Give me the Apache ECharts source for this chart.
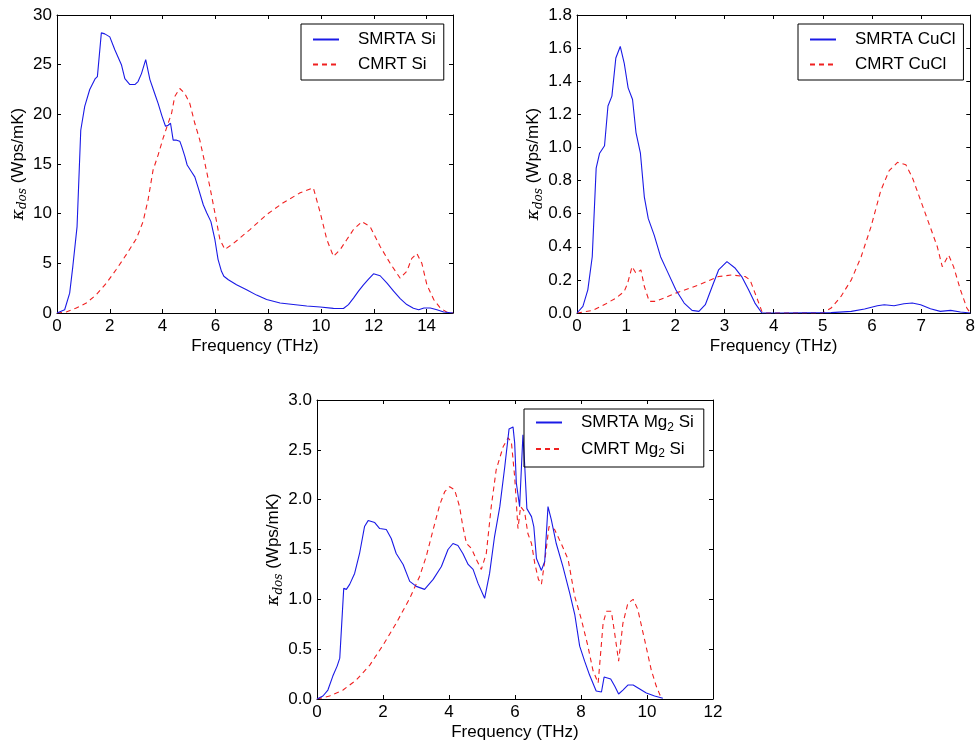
<!DOCTYPE html>
<html>
<head>
<meta charset="utf-8">
<script src="https://cdn.jsdelivr.net/npm/echarts@6/dist/echarts.min.js"></script>
<style>
  html, body { margin: 0; padding: 0; background: #fff; }
  #main { width: 978px; height: 745px; }
</style>
</head>
<body>
<div id="main"></div>
<script>
// kappa_dos curves, [frequency THz, value]
const siSmrta = [[0,0],[0.29,0.33],[0.48,2.0],[0.6,4.7],[0.76,8.7],[0.9,18.4],[1.05,20.8],[1.24,22.5],[1.45,23.6],[1.53,23.8],[1.68,28.2],[1.81,28.1],[2.0,27.8],[2.19,26.5],[2.44,25.0],[2.57,23.6],[2.76,23.0],[2.95,23.0],[3.07,23.3],[3.2,24.1],[3.36,25.5],[3.52,23.5],[3.7,22.1],[3.83,21.1],[3.98,19.8],[4.11,18.8],[4.21,18.9],[4.3,19.1],[4.4,17.4],[4.53,17.4],[4.65,17.3],[4.72,16.8],[4.84,15.8],[4.93,14.9],[5.1,14.2],[5.22,13.7],[5.35,12.6],[5.54,10.9],[5.67,10.1],[5.83,9.2],[5.98,7.4],[6.1,5.4],[6.23,4.2],[6.32,3.7],[6.49,3.35],[6.8,2.85],[7.18,2.35],[7.56,1.8],[7.94,1.35],[8.45,1.0],[8.95,0.85],[9.46,0.7],[9.97,0.6],[10.47,0.47],[10.85,0.45],[11.04,0.85],[11.23,1.5],[11.42,2.2],[11.6,2.8],[11.8,3.4],[11.99,3.95],[12.24,3.75],[12.5,3.0],[12.75,2.2],[13.0,1.45],[13.25,0.85],[13.5,0.47],[13.7,0.33],[13.9,0.5],[14.14,0.5],[14.39,0.33],[14.65,0.1],[15,0]];
const siCmrt = [[0,0],[0.35,0.1],[0.73,0.5],[1.11,1.0],[1.49,1.85],[1.87,3.0],[2.25,4.4],[2.63,5.9],[3.01,7.5],[3.26,9.2],[3.45,11.4],[3.64,14.4],[3.83,15.9],[4.02,17.6],[4.21,19.1],[4.34,20.1],[4.46,21.8],[4.65,22.6],[4.84,22.1],[5.03,21.1],[5.22,19.1],[5.41,17.4],[5.6,15.1],[5.79,12.7],[5.98,10.1],[6.17,7.4],[6.36,6.4],[6.68,7.0],[7.31,8.4],[7.94,9.9],[8.57,11.1],[9.21,12.1],[9.71,12.6],[9.97,10.1],[10.22,7.4],[10.47,5.7],[10.73,6.4],[10.98,7.4],[11.23,8.4],[11.55,9.2],[11.86,8.7],[12.24,6.7],[12.62,5.0],[13.0,3.5],[13.25,4.2],[13.44,5.5],[13.63,6.0],[13.82,5.0],[14.01,2.85],[14.27,1.35],[14.52,0.5],[14.77,0.07],[15,0]];

const cuclSmrta = [[0,0],[0.12,0.04],[0.22,0.14],[0.31,0.34],[0.39,0.875],[0.46,0.965],[0.56,1.01],[0.63,1.25],[0.71,1.31],[0.79,1.54],[0.88,1.61],[0.96,1.51],[1.04,1.36],[1.13,1.29],[1.2,1.09],[1.29,0.965],[1.37,0.70],[1.45,0.57],[1.57,0.47],[1.7,0.34],[1.84,0.25],[2.01,0.14],[2.18,0.06],[2.34,0.016],[2.48,0.01],[2.61,0.05],[2.75,0.16],[2.88,0.26],[3.05,0.31],[3.22,0.27],[3.35,0.22],[3.49,0.14],[3.62,0.06],[3.76,0],[4.16,0],[5.17,0.002],[5.58,0.01],[5.85,0.024],[6.11,0.044],[6.25,0.05],[6.45,0.044],[6.65,0.056],[6.82,0.06],[6.99,0.05],[7.19,0.026],[7.39,0.01],[7.6,0.016],[7.8,0.006],[8,0]];
const cuclCmrt = [[0,0],[0.32,0.016],[0.59,0.056],[0.79,0.09],[0.96,0.13],[1.03,0.18],[1.12,0.28],[1.2,0.24],[1.3,0.26],[1.37,0.16],[1.47,0.07],[1.6,0.07],[2.01,0.12],[2.48,0.17],[2.88,0.22],[3.15,0.23],[3.42,0.22],[3.52,0.2],[3.66,0.09],[3.76,0.01],[3.83,0],[5.0,0],[5.17,0.03],[5.37,0.1],[5.58,0.2],[5.78,0.34],[5.98,0.52],[6.18,0.74],[6.35,0.86],[6.52,0.91],[6.69,0.895],[6.82,0.82],[6.99,0.68],[7.16,0.54],[7.33,0.40],[7.43,0.28],[7.56,0.35],[7.66,0.28],[7.8,0.14],[7.93,0.03],[8,0]];

const mg2siSmrta = [[0,0],[0.18,0.03],[0.33,0.09],[0.48,0.23],[0.61,0.33],[0.69,0.41],[0.81,1.11],[0.89,1.10],[0.99,1.15],[1.14,1.26],[1.29,1.46],[1.44,1.73],[1.55,1.79],[1.75,1.77],[1.9,1.71],[2.1,1.70],[2.25,1.61],[2.4,1.46],[2.61,1.35],[2.81,1.18],[3.01,1.13],[3.26,1.10],[3.52,1.20],[3.77,1.33],[3.97,1.50],[4.12,1.56],[4.27,1.54],[4.42,1.46],[4.58,1.35],[4.73,1.30],[4.88,1.16],[5.08,1.01],[5.23,1.26],[5.38,1.63],[5.54,1.93],[5.69,2.33],[5.82,2.71],[5.94,2.73],[5.99,2.57],[6.04,2.17],[6.14,1.93],[6.24,2.65],[6.29,2.37],[6.36,1.91],[6.5,1.83],[6.57,1.73],[6.65,1.41],[6.8,1.29],[6.9,1.38],[7.0,1.93],[7.1,1.80],[7.25,1.56],[7.45,1.33],[7.66,1.06],[7.81,0.85],[7.96,0.53],[8.11,0.38],[8.26,0.24],[8.46,0.08],[8.62,0.07],[8.7,0.22],[8.9,0.20],[9.02,0.13],[9.14,0.05],[9.27,0.09],[9.42,0.14],[9.58,0.14],[9.78,0.10],[9.98,0.06],[10.23,0.03],[10.48,0.007]];
const mg2siCmrt = [[0,0],[0.38,0.03],[0.79,0.09],[1.19,0.19],[1.6,0.34],[2.0,0.54],[2.4,0.76],[2.81,1.01],[3.11,1.23],[3.31,1.43],[3.52,1.70],[3.72,1.95],[3.87,2.08],[4.02,2.13],[4.17,2.10],[4.32,1.93],[4.42,1.73],[4.53,1.56],[4.68,1.51],[4.83,1.40],[4.98,1.30],[5.13,1.46],[5.28,1.93],[5.43,2.30],[5.64,2.53],[5.79,2.62],[5.89,2.58],[5.99,2.23],[6.09,1.71],[6.17,1.93],[6.29,1.88],[6.39,1.66],[6.5,1.56],[6.6,1.36],[6.71,1.20],[6.8,1.15],[6.9,1.38],[7.03,1.73],[7.2,1.70],[7.4,1.56],[7.61,1.40],[7.81,1.03],[8.01,0.80],[8.21,0.53],[8.36,0.29],[8.52,0.16],[8.67,0.76],[8.77,0.88],[8.92,0.88],[9.02,0.66],[9.14,0.38],[9.27,0.76],[9.42,0.96],[9.58,1.0],[9.72,0.90],[9.93,0.59],[10.13,0.29],[10.28,0.13],[10.43,0.01]];

const FONT = '"Liberation Sans", Arial, sans-serif';
const FS = 17;
const chart = echarts.init(document.getElementById('main'));

const grids = [
  { left: 57, top: 15, width: 396, height: 298 },
  { left: 577, top: 15, width: 396, height: 298 },
  { left: 317, top: 400, width: 396, height: 299 }
];
const xRanges = [[0, 15, 2], [0, 8, 1], [0, 12, 2]];
const yRanges = [[0, 30, 5, 0, 25], [0, 1.8, 0.2, 1, 31], [0, 3, 0.5, 1, 32]];

const yName = '{k|κ}{s|dos}{n| (Wps/mK)}';
const yNameStyle = {
  color: '#000', fontFamily: FONT,
  rich: {
    k: { fontSize: FS, fontStyle: 'italic', fontFamily: '"DejaVu Serif", serif', lineHeight: 22, verticalAlign: 'middle' },
    s: { fontSize: 12, fontStyle: 'italic', fontFamily: '"DejaVu Serif", serif', lineHeight: 10, verticalAlign: 'bottom' },
    n: { fontSize: FS, fontFamily: FONT, lineHeight: 22, verticalAlign: 'middle' }
  }
};

const tick = { show: true, inside: true, length: 4, lineStyle: { color: '#000' } };
const line = { show: true, onZero: false, lineStyle: { color: '#000', width: 1 } };

let xAxis = [], yAxis = [];
for (let i = 0; i < 3; i++) {
  let xr = xRanges[i], yr = yRanges[i];
  xAxis.push({
    type: 'value', gridIndex: i, min: xr[0], max: xr[1], interval: xr[2],
    name: 'Frequency (THz)', nameLocation: 'middle', nameGap: 25,
    nameTextStyle: { color: '#000', fontSize: FS, fontFamily: FONT },
    axisLine: line, axisTick: tick,
    axisLabel: { color: '#000', fontSize: FS, fontFamily: FONT, margin: 5,
      formatter: v => (v % xr[2] !== 0) ? '' : String(v) },
    splitLine: { show: false }
  });
  xAxis.push({
    type: 'value', gridIndex: i, position: 'top', min: xr[0], max: xr[1], interval: xr[2],
    axisLine: line, axisTick: tick,
    axisLabel: { show: false }, splitLine: { show: false }
  });
  yAxis.push({
    type: 'value', gridIndex: i, min: yr[0], max: yr[1], interval: yr[2],
    name: yName, nameLocation: 'middle', nameGap: yr[4], nameTextStyle: yNameStyle,
    axisLine: line, axisTick: tick,
    axisLabel: { color: '#000', fontSize: FS, fontFamily: FONT, margin: 5,
      formatter: v => v.toFixed(yr[3]) },
    splitLine: { show: false }
  });
  yAxis.push({
    type: 'value', gridIndex: i, position: 'right', min: yr[0], max: yr[1], interval: yr[2],
    axisLine: line, axisTick: tick,
    axisLabel: { show: false }, splitLine: { show: false }
  });
}

function mkSeries(name, data, idx, dashed) {
  return {
    name: name, type: 'line', xAxisIndex: idx * 2, yAxisIndex: idx * 2,
    data: data, showSymbol: false, symbol: 'none', smooth: false,
    lineStyle: dashed ? { color: '#f02020', width: 1.1, type: [5, 4] } : { color: '#1a1ae6', width: 1.1 },
    itemStyle: { color: dashed ? '#f02020' : '#1a1ae6' },
    animation: false, z: dashed ? 2 : 3
  };
}

const legendText = {
  color: '#000', fontSize: FS, fontFamily: FONT, padding: [0, 0, 0, 14],
  rich: {
    t: { fontSize: FS, fontFamily: FONT, lineHeight: 22, verticalAlign: 'middle' },
    s: { fontSize: 12, fontFamily: FONT, lineHeight: 10, verticalAlign: 'bottom' }
  }
};
function mkLegend(names, left, top, gap, pad) {
  return {
    data: names, orient: 'vertical', left: left, top: top,
    borderColor: '#000', borderWidth: 1, borderRadius: 0,
    padding: pad, itemWidth: 26, itemHeight: 14, itemGap: gap,
    itemStyle: { opacity: 0 },
    textStyle: legendText,
    formatter: n => n.indexOf('Mg2') >= 0 ? n.replace(/(.*Mg)2 ?(Si)/, '{t|$1}{s|2}{t| $2}') : n
  };
}

chart.setOption({
  backgroundColor: '#fff',
  animation: false,
  grid: grids,
  xAxis: xAxis,
  yAxis: yAxis,
  legend: [
    mkLegend(['SMRTA Si', 'CMRT Si'], 301, 24, 8, [7, 8, 7, 11]),
    mkLegend(['SMRTA CuCl', 'CMRT CuCl'], 798, 24, 8, [7, 8, 7, 11]),
    mkLegend(['SMRTA Mg2Si', 'CMRT Mg2Si'], 524, 409, 7, [5, 10, 7, 11])
  ],
  series: [
    mkSeries('SMRTA Si', siSmrta, 0, false),
    mkSeries('CMRT Si', siCmrt, 0, true),
    mkSeries('SMRTA CuCl', cuclSmrta, 1, false),
    mkSeries('CMRT CuCl', cuclCmrt, 1, true),
    mkSeries('SMRTA Mg2Si', mg2siSmrta, 2, false),
    mkSeries('CMRT Mg2Si', mg2siCmrt, 2, true)
  ]
});
</script>
</body>
</html>
